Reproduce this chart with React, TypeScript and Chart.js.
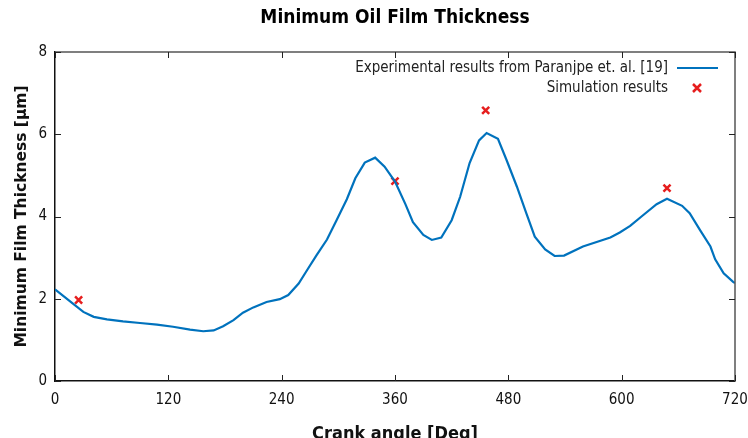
import { useEffect, useRef } from "react";
import { Chart, registerables } from "chart.js";
Chart.register(...registerables);

const CHART_TITLE = "Minimum Oil Film Thickness";
const X_TITLE = "Crank angle [Deg]";
const Y_TITLE = "Minimum Film Thickness [\u00b5m]";
const EXP_LABEL = "Experimental results from Paranjpe et. al. [19]";
const SIM_LABEL = "Simulation results";

const X_TICKS = [0, 120, 240, 360, 480, 600, 720];
const Y_TICKS = [0, 2, 4, 6, 8];

const expAngles = [0, 19, 30, 41, 55, 72, 90, 108, 125, 143, 157, 168, 178, 189, 199, 210, 224, 238, 247, 258, 267, 277, 288, 298, 309, 318, 328, 339, 349, 360, 371, 379, 390, 399, 409, 420, 429, 439, 449, 457, 469, 478, 489, 499, 508, 519, 529, 539, 559, 588, 598, 609, 621, 637, 648, 664, 672, 683, 694, 699, 708, 718, 720];
const expValues = [2.23, 1.88, 1.68, 1.56, 1.5, 1.45, 1.41, 1.37, 1.32, 1.25, 1.21, 1.23, 1.33, 1.48, 1.66, 1.79, 1.92, 1.99, 2.09, 2.37, 2.7, 3.06, 3.44, 3.9, 4.42, 4.93, 5.31, 5.43, 5.21, 4.85, 4.3, 3.86, 3.55, 3.43, 3.49, 3.91, 4.48, 5.3, 5.85, 6.03, 5.89, 5.38, 4.73, 4.08, 3.51, 3.2, 3.04, 3.05, 3.27, 3.49, 3.61, 3.77, 4.0, 4.3, 4.43, 4.26, 4.08, 3.67, 3.27, 2.96, 2.62, 2.41, 2.38];

const simAngles = [25, 360, 456, 648];
const simValues = [1.97, 4.86, 6.58, 4.69];

const BLUE = "rgb(0,114,189)";
const RED = "rgb(230,30,30)";

const decorPlugin = {
  id: "decor",
  afterDraw(chart: any) {
    const { ctx, chartArea, scales } = chart;
    const { left, right, top, bottom } = chartArea;
    const x = scales.x;
    const y = scales.y;
    ctx.save();
    ctx.strokeStyle = "#555";
    ctx.lineWidth = 1.5;
    ctx.beginPath();
    ctx.moveTo(left, top);
    ctx.lineTo(right, top);
    ctx.lineTo(right, bottom);
    ctx.stroke();
    ctx.strokeStyle = "#222";
    ctx.lineWidth = 1;
    ctx.beginPath();
    X_TICKS.forEach((v) => {
      const px = Math.round(x.getPixelForValue(v)) + 0.5;
      ctx.moveTo(px, bottom);
      ctx.lineTo(px, bottom - 6);
      ctx.moveTo(px, top);
      ctx.lineTo(px, top + 6);
    });
    Y_TICKS.forEach((v) => {
      const py = Math.round(y.getPixelForValue(v)) + 0.5;
      ctx.moveTo(left, py);
      ctx.lineTo(left + 6, py);
      ctx.moveTo(right, py);
      ctx.lineTo(right - 6, py);
    });
    ctx.stroke();
    ctx.fillStyle = "#000";
    ctx.font = 'bold 19px "DejaVu Sans Condensed"';
    ctx.textAlign = "center";
    ctx.textBaseline = "middle";
    ctx.fillText(CHART_TITLE, (left + right) / 2, 18);
    const textRight = right - 67;
    const row1 = top + 16;
    const row2 = top + 36;
    ctx.font = '15px "DejaVu Sans Condensed"';
    ctx.fillStyle = "#222";
    ctx.textAlign = "right";
    ctx.fillText(EXP_LABEL, textRight, row1);
    ctx.fillText(SIM_LABEL, textRight, row2);
    ctx.strokeStyle = BLUE;
    ctx.lineWidth = 2.2;
    ctx.beginPath();
    ctx.moveTo(textRight + 9, row1);
    ctx.lineTo(textRight + 50, row1);
    ctx.stroke();
    const cx = textRight + 29;
    ctx.strokeStyle = RED;
    ctx.lineWidth = 2.5;
    ctx.beginPath();
    ctx.moveTo(cx - 4, row2 - 4);
    ctx.lineTo(cx + 4, row2 + 4);
    ctx.moveTo(cx + 4, row2 - 4);
    ctx.lineTo(cx - 4, row2 + 4);
    ctx.stroke();
    ctx.restore();
  },
};

export default function App() {
  const ref = useRef<HTMLCanvasElement | null>(null);
  useEffect(() => {
    if (!ref.current) return;
    const chart = new Chart(ref.current, {
      type: "scatter",
      data: {
        datasets: [
          {
            label: EXP_LABEL,
            data: expAngles.map((a, i) => ({ x: a, y: expValues[i] })),
            showLine: true,
            borderColor: BLUE,
            borderWidth: 2.2,
            pointRadius: 0,
            tension: 0,
          },
          {
            label: SIM_LABEL,
            data: simAngles.map((a, i) => ({ x: a, y: simValues[i] })),
            showLine: false,
            pointStyle: "crossRot",
            pointRadius: 5,
            borderColor: RED,
            backgroundColor: RED,
            pointBorderWidth: 2.5,
          } as any,
        ],
      },
      options: {
        responsive: false,
        animation: false,
        layout: { padding: { left: 0, right: 13, top: 52, bottom: 0 } },
        plugins: {
          legend: { display: false },
          title: { display: false },
          tooltip: { enabled: false },
        },
        scales: {
          x: {
            type: "linear",
            min: 0,
            max: 720,
            afterBuildTicks: (s: any) => {
              s.ticks = X_TICKS.map((v) => ({ value: v }));
            },
            ticks: {
              color: "#111",
              font: { family: '"Liberation Sans Narrow", "DejaVu Sans Condensed"', size: 15 },
              padding: 10,
              maxRotation: 0,
            },
            grid: { display: false, drawTicks: false },
            border: { display: true, color: "#111", width: 1.5 },
            title: {
              display: true,
              text: X_TITLE,
              color: "#111",
              font: { family: '"DejaVu Sans Condensed"', size: 18, weight: "bold" },
              padding: { top: 0, bottom: -7 },
            },
            afterFit: (s: any) => {
              s.height = 57;
              s.paddingLeft = 0;
              s.paddingRight = 0;
            },
          },
          y: {
            type: "linear",
            min: 0,
            max: 8,
            afterBuildTicks: (s: any) => {
              s.ticks = Y_TICKS.map((v) => ({ value: v }));
            },
            ticks: {
              color: "#111",
              font: { family: '"Liberation Sans Narrow", "DejaVu Sans Condensed"', size: 15 },
              padding: 8,
            },
            grid: { display: false, drawTicks: false },
            border: { display: true, color: "#111", width: 1.5 },
            title: {
              display: true,
              text: Y_TITLE,
              color: "#111",
              font: { family: '"DejaVu Sans"', size: 15.5, weight: "bold" },
              padding: { top: 13 },
            },
            afterFit: (s: any) => {
              s.width = 55;
              s.paddingTop = 0;
              s.paddingBottom = 0;
            },
          },
        },
      },
      plugins: [decorPlugin],
    });
    return () => chart.destroy();
  }, []);
  return (
    <div style={{ position: "absolute", left: 0, top: 0, width: 748, height: 438, background: "#fff" }}>
      <canvas ref={ref} width={748} height={438} />
    </div>
  );
}
